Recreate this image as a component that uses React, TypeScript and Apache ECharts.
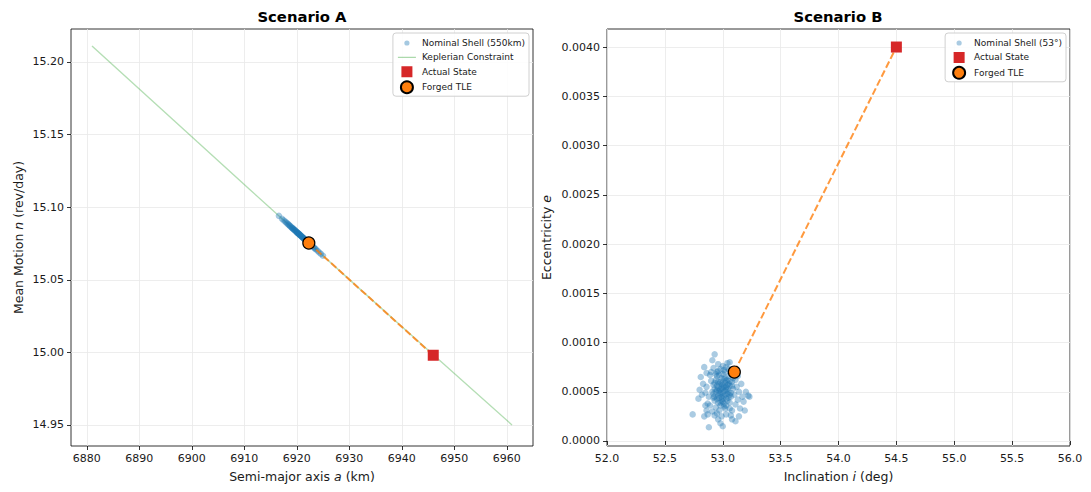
import React, { useEffect, useRef } from "react";
import * as echarts from "echarts";

const FONT = "DejaVu Sans";
const INK = "#1a1a1a";

// Scenario A tick labels
const aTicks = [6880, 6890, 6900, 6910, 6920, 6930, 6940, 6950, 6960];
const nTicks = [14.95, 15.0, 15.05, 15.1, 15.15, 15.2];
// Scenario B tick labels
const eTicks = [0, 0.0005, 0.001, 0.0015, 0.002, 0.0025, 0.003, 0.0035, 0.004];

// Scenario A: nominal shell (semi-major axis km, mean motion rev/day)
const shellA_a = [
  6916.6, 6917.2, 6917.5, 6917.8, 6918.0, 6918.2, 6918.4, 6918.5, 6918.7, 6918.8,
  6919.0, 6919.1, 6919.2, 6919.3, 6919.4, 6919.5, 6919.6, 6919.7, 6919.8, 6919.9,
  6920.0, 6920.1, 6920.1, 6920.2, 6920.3, 6920.4, 6920.4, 6920.5, 6920.6, 6920.6,
  6920.7, 6920.8, 6920.9, 6921.0, 6921.0, 6921.1, 6921.2, 6921.3, 6921.3, 6921.4,
  6921.5, 6921.6, 6921.7, 6921.8, 6921.9, 6922.0, 6922.1, 6922.2, 6922.4, 6922.5,
  6922.7, 6922.9, 6923.1, 6923.3, 6923.5, 6923.7, 6924.0, 6924.3, 6924.6, 6925.0,
];
const shellA_n = [
  15.094, 15.092, 15.091, 15.0901, 15.0894, 15.0888, 15.0881, 15.0878, 15.0871, 15.0868,
  15.0861, 15.0858, 15.0855, 15.0852, 15.0848, 15.0845, 15.0842, 15.0839, 15.0835, 15.0832,
  15.0829, 15.0825, 15.0825, 15.0822, 15.0819, 15.0816, 15.0816, 15.0812, 15.0809, 15.0809,
  15.0806, 15.0803, 15.0799, 15.0796, 15.0796, 15.0793, 15.0789, 15.0786, 15.0786, 15.0783,
  15.078, 15.0776, 15.0773, 15.077, 15.0767, 15.0763, 15.076, 15.0757, 15.075, 15.0747,
  15.074, 15.0734, 15.0727, 15.0721, 15.0714, 15.0708, 15.0698, 15.0688, 15.0678, 15.0665,
];
// Keplerian constraint curve
const keplerA_a = [6881, 6901, 6921, 6941, 6961];
const keplerA_n = [15.211, 15.1452, 15.0796, 15.0145, 14.95];
const actualA = [6946.0, 14.998];
const forgedA = [6922.3, 15.0753];

// Scenario B: nominal shell (inclination deg, eccentricity)
const shellB: number[][] = [
  [52.95, 0.00052], [52.98, 0.00048], [53.01, 0.00055], [52.93, 0.00045], [53.03, 0.00061],
  [52.97, 0.00058], [53.0, 0.00043], [52.96, 0.00039], [53.05, 0.0005], [52.99, 0.00064],
  [52.92, 0.00057], [53.02, 0.00047], [53.06, 0.00056], [52.94, 0.00062], [53.04, 0.00041],
  [52.97, 0.00051], [53.0, 0.00068], [52.91, 0.0005], [53.07, 0.00045], [52.98, 0.00036],
  [53.02, 0.0007], [52.95, 0.00066], [53.01, 0.00038], [52.93, 0.00041], [53.08, 0.0006],
  [52.99, 0.00054], [53.03, 0.00052], [52.96, 0.00046], [53.05, 0.00066], [52.9, 0.00061],
  [53.0, 0.00049], [52.98, 0.00073], [53.04, 0.00057], [52.94, 0.00034], [53.06, 0.00039],
  [52.97, 0.00044], [53.02, 0.00059], [52.95, 0.00056], [53.09, 0.00053], [52.92, 0.00048],
  [53.01, 0.00063], [52.99, 0.00041], [53.07, 0.00068], [52.96, 0.00071], [53.03, 0.00036],
  [52.93, 0.00053], [53.05, 0.00044], [53.0, 0.00057], [52.98, 0.0006], [53.04, 0.00048],
  [52.97, 0.00049], [53.01, 0.00046], [52.99, 0.00058], [53.03, 0.00055], [52.95, 0.00043],
  [53.06, 0.00061], [52.98, 0.00052], [53.02, 0.00064], [52.94, 0.0005], [53.04, 0.00053],
  [53.0, 0.0004], [52.96, 0.0006], [53.07, 0.00049], [52.93, 0.00059], [53.01, 0.00072],
  [52.99, 0.00045], [53.05, 0.00058], [52.97, 0.00067], [53.03, 0.00043], [52.92, 0.00044],
  [53.08, 0.00056], [53.0, 0.00053], [52.95, 0.0007], [53.02, 0.00051], [53.06, 0.00047],
  [52.98, 0.00039], [53.04, 0.00062], [53.01, 0.00035], [52.96, 0.00054], [53.09, 0.00064],
  [52.88, 0.00045], [52.86, 0.00055], [53.1, 0.00047], [53.12, 0.00055], [52.89, 0.00067],
  [53.11, 0.00062], [52.87, 0.00038], [53.13, 0.00042], [52.91, 0.0003], [53.08, 0.00031],
  [52.95, 0.00028], [53.03, 0.00027], [52.99, 0.00025], [53.06, 0.00033], [52.92, 0.00074],
  [53.0, 0.00076], [53.05, 0.00073], [52.96, 0.00078], [53.09, 0.00071], [52.89, 0.00036],
  [53.14, 0.0005], [52.85, 0.00049], [52.97, 0.00031], [53.02, 0.00033], [53.07, 0.00026],
  [52.93, 0.00026], [53.11, 0.00037], [52.9, 0.0007], [53.04, 0.00079], [52.94, 0.00068],
  [52.93, 0.00088], [52.84, 0.00075], [52.8, 0.00052], [52.83, 0.00058], [52.86, 0.00069],
  [52.74, 0.00027], [52.84, 0.00025], [52.85, 0.00036], [52.88, 0.00014], [53.0, 0.00015],
  [53.11, 0.0002], [53.23, 0.00045], [53.2, 0.0005], [53.19, 0.00031], [53.03, 0.00075],
  [52.98, 0.00018], [52.96, 0.00022], [53.15, 0.00033], [53.16, 0.00058], [53.17, 0.00045],
  [52.82, 0.00047], [52.87, 0.00027], [53.08, 0.00022], [53.13, 0.00066], [52.91, 0.00082],
  [53.06, 0.0008], [52.81, 0.00065], [52.86, 0.00031], [53.18, 0.0004], [53.22, 0.00046],
  [53.14, 0.00025], [52.79, 0.00043],
];
const actualB = [54.5, 0.004];
const forgedB = [53.1, 0.0007];

const BLUE = "rgba(31,119,180,0.4)";
const BLUE_B = "rgba(31,119,180,0.38)";
const GREEN = "rgba(44,160,44,0.35)";
const RED = "#d62728";
const ORANGE = "#ff7f0e";
// legend icons drawn inside a 20x12 box (corner specks fix the box size)
const BOX = "M0,0L0,0.01L0.01,0Z M20,12L20,11.99L19.99,12Z ";
const DOT_ICON = "path://" + BOX + "M12.6,6A2.6,2.6,0,1,1,7.4,6A2.6,2.6,0,1,1,12.6,6Z";
const LINE_ICON = "path://" + BOX + "M1,5.4L19,5.4L19,6.6L1,6.6Z";
const SQUARE_ICON = "path://" + BOX + "M4.5,0.5L15.5,0.5L15.5,11.5L4.5,11.5Z";

function axisCommon() {
  return {
    axisLine: { show: false },
    axisTick: { show: true, inside: false, length: 4, lineStyle: { color: "#000", width: 0.8 } },
    axisLabel: { color: INK, fontFamily: FONT, fontSize: 11, margin: 7 },
    splitLine: { show: true, lineStyle: { color: "#e8e8e8", width: 0.8 } },
    nameLocation: "middle" as const,
    nameTextStyle: {
      color: INK,
      fontFamily: FONT,
      fontSize: 12.5,
      rich: { i: { fontStyle: "italic", fontFamily: FONT, fontSize: 12.5, color: INK } },
    },
  };
}

function legendCommon() {
  return {
    orient: "vertical" as const,
    top: 33,
    itemWidth: 20,
    itemHeight: 12,
    itemGap: 2.4,
    padding: [4, 4, 2, 4],
    backgroundColor: "rgba(255,255,255,0.85)",
    borderColor: "#d0d0d0",
    borderWidth: 1,
    borderRadius: 3,
    textStyle: { color: INK, fontFamily: FONT, fontSize: 9 },
    selectedMode: false,
  };
}

export default function App() {
  const ref = useRef<HTMLDivElement>(null);
  useEffect(() => {
    document.body.style.margin = "0";
    if (!ref.current) return;
    const chart = echarts.init(ref.current, undefined, { renderer: "svg" });
    const c = axisCommon();
    const titleStyle = { fontFamily: FONT, fontSize: 14.8, fontWeight: "bold", color: "#000" };
    const option: any = {
      animation: false,
      backgroundColor: "#fff",
      title: [
        { text: "Scenario A", left: 302, top: 9, padding: 0, textAlign: "center", textStyle: titleStyle },
        { text: "Scenario B", left: 838, top: 9, padding: 0, textAlign: "center", textStyle: titleStyle },
      ],
      grid: [
        { left: 71, top: 29, width: 462, height: 417, show: true, borderColor: "#000", borderWidth: 0.8, backgroundColor: "transparent" },
        { left: 607, top: 29, width: 463, height: 417, show: true, borderColor: "#000", borderWidth: 0.8, backgroundColor: "transparent" },
      ],
      xAxis: [
        {
          ...c,
          type: "value",
          gridIndex: 0,
          min: 6877,
          max: 6965,
          name: "Semi-major axis {i|a} (km)",
          nameGap: 24,
          axisTick: { ...c.axisTick, customValues: aTicks },
          axisLabel: { ...c.axisLabel, customValues: aTicks, formatter: (v: number) => String(Math.round(v)) },
        },
        {
          ...c,
          type: "value",
          gridIndex: 1,
          min: 52,
          max: 56,
          interval: 0.5,
          name: "Inclination {i|i} (deg)",
          nameGap: 24,
          axisLabel: { ...c.axisLabel, formatter: (v: number) => v.toFixed(1) },
        },
      ],
      yAxis: [
        {
          ...c,
          type: "value",
          gridIndex: 0,
          min: 14.9355,
          max: 15.2227,
          name: "Mean Motion {i|n} (rev/day)",
          nameGap: 46,
          axisTick: { ...c.axisTick, customValues: nTicks },
          axisLabel: { ...c.axisLabel, customValues: nTicks, formatter: (v: number) => v.toFixed(2) },
        },
        {
          ...c,
          type: "value",
          gridIndex: 1,
          min: -0.0000508,
          max: 0.004183,
          name: "Eccentricity {i|e}",
          nameGap: 54,
          axisTick: { ...c.axisTick, customValues: eTicks },
          axisLabel: { ...c.axisLabel, customValues: eTicks, formatter: (v: number) => v.toFixed(4) },
        },
      ],
      legend: [
        {
          ...legendCommon(),
          right: 562,
          data: [
            { name: "Nominal Shell (550km)", icon: DOT_ICON },
            { name: "Keplerian Constraint", icon: LINE_ICON, itemStyle: { color: "rgba(44,160,44,0.4)" } },
            { name: "Actual State", icon: SQUARE_ICON },
            { name: "Forged TLE", icon: "circle" },
          ],
        },
        {
          ...legendCommon(),
          right: 25,
          data: [
            { name: "Nominal Shell (53°)", icon: DOT_ICON },
            { name: "Actual State", icon: SQUARE_ICON },
            { name: "Forged TLE", icon: "circle" },
          ],
        },
      ],
      series: [
        {
          name: "Keplerian Constraint",
          type: "line",
          xAxisIndex: 0,
          yAxisIndex: 0,
          data: keplerA_a.map((a, k) => [a, keplerA_n[k]]),
          symbol: "none",
          smooth: true,
          lineStyle: { color: GREEN, width: 1.4 },
          itemStyle: { color: GREEN },
          z: 1,
        },
        {
          name: "Nominal Shell (550km)",
          type: "scatter",
          xAxisIndex: 0,
          yAxisIndex: 0,
          data: shellA_a.map((a, k) => [a, shellA_n[k]]),
          symbolSize: 6.5,
          itemStyle: { color: BLUE, opacity: 1 },
          z: 2,
        },
        {
          name: "dashA",
          type: "line",
          xAxisIndex: 0,
          yAxisIndex: 0,
          data: [forgedA, actualA],
          symbol: "none",
          lineStyle: { color: "rgba(255,127,14,0.8)", width: 2, type: [7, 3] },
          z: 3,
        },
        {
          name: "Actual State",
          type: "scatter",
          xAxisIndex: 0,
          yAxisIndex: 0,
          data: [actualA],
          symbol: "rect",
          symbolSize: 11,
          itemStyle: { color: RED, opacity: 1 },
          z: 4,
        },
        {
          name: "Forged TLE",
          type: "scatter",
          xAxisIndex: 0,
          yAxisIndex: 0,
          data: [forgedA],
          symbol: "circle",
          symbolSize: 12,
          itemStyle: { color: ORANGE, borderColor: "#000", borderWidth: 1.2, opacity: 1 },
          z: 5,
        },
        {
          name: "Nominal Shell (53°)",
          type: "scatter",
          xAxisIndex: 1,
          yAxisIndex: 1,
          data: shellB,
          symbolSize: 6.5,
          itemStyle: { color: BLUE_B, opacity: 1 },
          z: 2,
        },
        {
          name: "dashB",
          type: "line",
          xAxisIndex: 1,
          yAxisIndex: 1,
          data: [forgedB, actualB],
          symbol: "none",
          lineStyle: { color: "rgba(255,127,14,0.8)", width: 2, type: [7, 3] },
          z: 3,
        },
        {
          name: "Actual State",
          type: "scatter",
          xAxisIndex: 1,
          yAxisIndex: 1,
          data: [actualB],
          symbol: "rect",
          symbolSize: 11,
          itemStyle: { color: RED, opacity: 1 },
          z: 4,
        },
        {
          name: "Forged TLE",
          type: "scatter",
          xAxisIndex: 1,
          yAxisIndex: 1,
          data: [forgedB],
          symbol: "circle",
          symbolSize: 12,
          itemStyle: { color: ORANGE, borderColor: "#000", borderWidth: 1.2, opacity: 1 },
          z: 5,
        },
      ],
    };
    chart.setOption(option);
    return () => chart.dispose();
  }, []);
  return <div ref={ref} style={{ width: 1091, height: 492 }} />;
}
